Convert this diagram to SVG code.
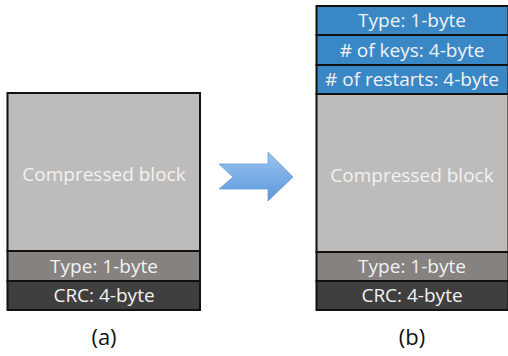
<svg xmlns="http://www.w3.org/2000/svg" width="508" height="356" viewBox="0 0 508 356">
<defs>
<linearGradient id="ag" x1="0" y1="0" x2="0" y2="1">
<stop offset="0" stop-color="#9cc3ee"/>
<stop offset="1" stop-color="#5a97dc"/>
</linearGradient>
</defs>
<style>
.cb{fill:#bebcbb;stroke:#111;stroke-width:2}
.ty{fill:#858280;stroke:#111;stroke-width:2}
.crc{fill:#403f3f;stroke:#111;stroke-width:2}
.hd{fill:#3a87c6;stroke:#111;stroke-width:2}
text{font-family:"Open Sans","Liberation Sans",sans-serif;fill:#f2f2f2;text-anchor:middle;font-size:19px}
.cap{fill:#111;font-size:22px}
</style>
<g id="blockA">
<rect class="cb" x="7.5" y="93" width="192.5" height="158"/>
<rect class="ty" x="7.5" y="251" width="192.5" height="30"/>
<rect class="crc" x="7.5" y="281" width="192.5" height="29"/>
<text x="104" y="181">Compressed block</text>
<text x="104" y="273">Type: 1-byte</text>
<text x="104" y="302">CRC: 4-byte</text>
</g>
<g id="arrow">
<path d="M219,164 L268,164 L268,152 L293,177 L268,201 L268,189 L219,189 L233,177 Z" fill="url(#ag)" stroke="#6d9fd6" stroke-width="0.8"/>
</g>
<g id="blockB">
<rect class="hd" x="316.5" y="6" width="192" height="29"/>
<rect class="hd" x="316.5" y="35" width="192" height="30"/>
<rect class="hd" x="316.5" y="65" width="192" height="29"/>
<rect class="cb" x="316.5" y="94" width="192" height="158"/>
<rect class="ty" x="316.5" y="252" width="192" height="29"/>
<rect class="crc" x="316.5" y="281" width="192" height="29"/>
<text x="412" y="27">Type: 1-byte</text>
<text x="412" y="57"># of keys: 4-byte</text>
<text x="412" y="86"># of restarts: 4-byte</text>
<text x="412" y="182">Compressed block</text>
<text x="412" y="273">Type: 1-byte</text>
<text x="412" y="302">CRC: 4-byte</text>
</g>
<g id="captions">
<text class="cap" x="104" y="345">(a)</text>
<text class="cap" x="412" y="345">(b)</text>
</g>
</svg>
